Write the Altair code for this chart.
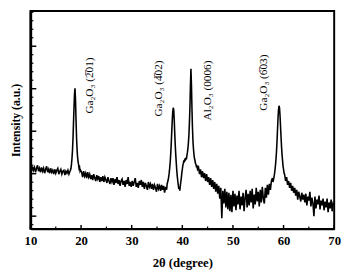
import altair as alt
import pandas as pd

# ---- data: XRD pattern (intensity in arbitrary units) ----
# Each segment: start angle, step, intensity values
seg_a_start, seg_a_step = 10.0, 0.2
seg_a = [63,59,64,60,63,58,62,65,59,62, 58,63,59,62,57,61,64,58,61,57,
         62,58,60,56,61,57,60,62,56,59, 61,56,59,60,55,59,57,60,56,59]

seg_b_start, seg_b_step = 17.9, 0.1
seg_b = [60,62,66,72,80,92,108,124,138,144,132,112,94,82,74,69,66,62,63,59,60]

seg_c_start, seg_c_step = 20.1, 0.2
seg_c = [58,53,59,54,57,52,58,53,56,51,
         55,50,56,52,49,55,51,54,48,53,
         49,54,48,53,50,47,53,49,46,52,
         48,52,45,51,47,53,46,50,44,49,
         51,45,49,43,50,46,53,44,48,43,
         49,44,48,52,43,47,42,49,45,50,
         43,48,41,47,44,40,48,43,46,41,
         46,40,45,42,38,46,41,44,39,45,
         40,44,37,43,40]

seg_d_start, seg_d_step = 37.0, 0.1
seg_d = [46,48,50,53,57,62,68,76,86,98,
         110,119,124,122,112,98,86,76,68,60,
         54,49,45,41,43,39,44,48,52,57,
         61,65,67,70,68,72,70,73,71,75,
         78,82,88,96,108,124,146,164,148,124,
         104,90,82,76,72,70,67,66,63,65,
         61]

seg_e_start, seg_e_step = 43.2, 0.2
seg_e = [63,56,61,53,59,52,57,49,56,48,
         53,45,52,43,50,41,48,38,46,36,
         44,31,42,11,39,26,41,22,38,20,
         37,18,35,17,39,23,36,19,34,25,
         39,20,33,24,37,18,32,40,22,36,
         24,39,27,41,21,35,25,42,28,38,
         23,40,27,43,31,26,42,32,45,35,
         46,40,49,52]

seg_f_start, seg_f_step = 57.9, 0.1
seg_f = [48,50,53,56,60,65,71,79,89,101,113,122,126,124,116,105,94,84,76,70,64,61,57]

seg_g_start, seg_g_step = 60.2, 0.2
seg_g = [56,49,53,45,49,42,47,39,44,37,
         42,34,40,30,38,33,28,37,30,35,
         27,36,24,33,29,38,23,32,26,13,
         33,21,30,25,34,20,29,24,31,19,
         28,22,31,17,27,21,30,18,26,24]

peak_labels = ["Ga\u2082O\u2083 (2\u030501)", "Ga\u2082O\u2083 (4\u030502)",
               "Al\u2082O\u2083 (0006)", "Ga\u2082O\u2083 (6\u030503)"]
label_angle = [21.8, 35.5, 45.1, 56.1]
label_base = [118, 115, 111, 121]

x_major = [10, 20, 30, 40, 50, 60, 70]
x_minor = [15, 25, 35, 45, 55, 65]
y_major = [13, 56.5, 100, 143.5, 187]
y_minor = [4.3, 21.7, 30.4, 39.1, 47.8, 65.2, 73.9, 82.6, 91.3, 108.7, 117.4, 126.1,
           134.8, 152.2, 160.9, 169.6, 178.3, 195.7, 204.4, 213.1, 221.8]

# ---- build table ----
rows = []
order = 0
for start, step, vals in [(seg_a_start, seg_a_step, seg_a), (seg_b_start, seg_b_step, seg_b),
                          (seg_c_start, seg_c_step, seg_c), (seg_d_start, seg_d_step, seg_d),
                          (seg_e_start, seg_e_step, seg_e), (seg_f_start, seg_f_step, seg_f),
                          (seg_g_start, seg_g_step, seg_g)]:
    for i, v in enumerate(vals):
        rows.append({"t": round(start + i * step, 2), "I": v, "o": order})
        order += 1
df = pd.DataFrame(rows)

W, H = 311, 223
FONT = "Liberation Serif"
xs = alt.Scale(domain=[10, 70], nice=False, zero=False)
ys = alt.Scale(domain=[0, H], nice=False, zero=False)

xaxis = alt.Axis(
    values=x_major, ticks=False, tickSize=0, grid=False, labelPadding=6, labelFlush=False,
    labelFont=FONT, labelFontSize=13, labelFontWeight="bold", labelColor="black",
    title="2\u03b8 (degree)", titleFont=FONT, titleFontSize=13, titleFontWeight="bold",
    titleColor="black", titlePadding=10, domainColor="black", domainWidth=2)
yaxis = alt.Axis(
    labels=False, ticks=False, tickSize=0, grid=False,
    title="Intensity (a.u.)", titleFont=FONT, titleFontSize=12, titleFontWeight="bold",
    titleColor="black", titlePadding=8, domainColor="black", domainWidth=2.5)

line = alt.Chart(df).mark_line(color="black", strokeWidth=1.6, clip=True).encode(
    x=alt.X("t:Q", scale=xs, axis=xaxis),
    y=alt.Y("I:Q", scale=ys, axis=yaxis),
    order="o:Q",
)

ymaj = alt.Chart(pd.DataFrame({"I": y_major})).mark_rule(color="black", strokeWidth=1.5).encode(
    y=alt.Y("I:Q", scale=ys, axis=yaxis), x=alt.value(0), x2=alt.value(6))
ymin = alt.Chart(pd.DataFrame({"I": y_minor})).mark_rule(color="black", strokeWidth=1.2).encode(
    y=alt.Y("I:Q", scale=ys, axis=yaxis), x=alt.value(0), x2=alt.value(3))
xmaj = alt.Chart(pd.DataFrame({"t": x_major})).mark_rule(color="black", strokeWidth=1.5).encode(
    x=alt.X("t:Q", scale=xs, axis=xaxis), y=alt.value(H), y2=alt.value(H - 4))
xmin = alt.Chart(pd.DataFrame({"t": x_minor})).mark_rule(color="black", strokeWidth=1.2).encode(
    x=alt.X("t:Q", scale=xs, axis=xaxis), y=alt.value(H), y2=alt.value(H - 2.5))

labels = alt.Chart(pd.DataFrame({"t": label_angle, "I": label_base, "s": peak_labels})).mark_text(
    angle=270, align="left", baseline="middle", font=FONT, fontSize=11.5, color="black"
).encode(x=alt.X("t:Q", scale=xs, axis=xaxis), y=alt.Y("I:Q", scale=ys, axis=yaxis), text="s:N")

chart = alt.layer(line, ymin, ymaj, xmin, xmaj, labels).properties(
    width=W, height=H, autosize="none", background="white",
    padding={"left": 23, "top": 0, "right": 8, "bottom": 40},
).configure_view(stroke="black", strokeWidth=2)

chart.save("out.html", embed_options={"renderer": "svg", "actions": False})
